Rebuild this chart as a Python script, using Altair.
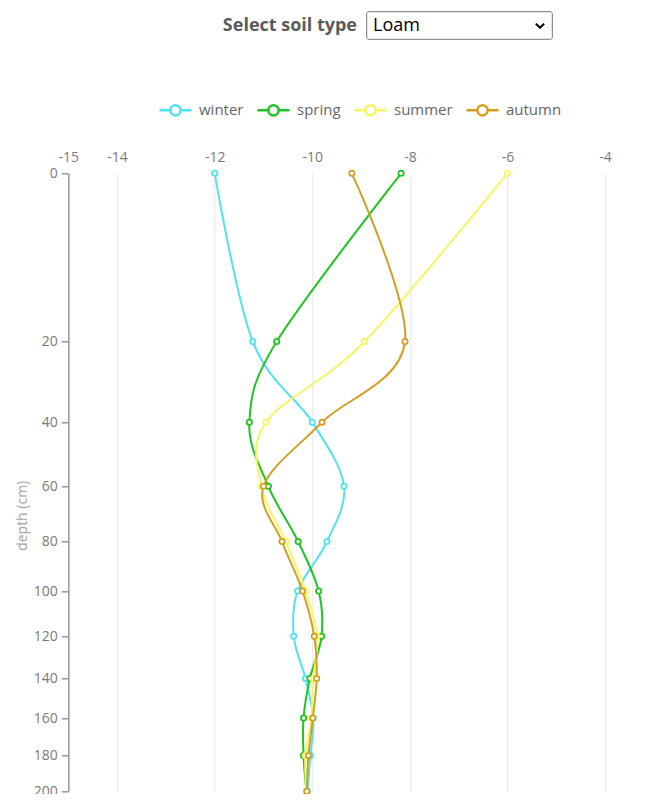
import altair as alt
import pandas as pd

# ---- data (soil type: Loam) ----
depths = [0, 20, 40, 60, 80, 100, 120, 140, 160, 180, 200]
seasons = ["winter", "spring", "summer", "autumn"]
season_colors = ["#4fe3f2", "#1fc41f", "#f6f662", "#d39e22"]

winter = [-12.0, -11.22, -10.0, -9.35, -9.70, -10.30, -10.38, -10.14, -9.98, -10.04, -10.10]
spring = [-8.18, -10.73, -11.29, -10.90, -10.29, -9.87, -9.81, -10.05, -10.18, -10.18, -10.12]
summer = [-6.0, -8.93, -10.95, -11.04, -10.54, -10.14, -9.90, -9.98, -10.02, -10.14, -10.12]
autumn = [-9.19, -8.10, -9.80, -11.0, -10.62, -10.20, -9.96, -9.91, -9.99, -10.08, -10.11]

x_ticks = [-15, -14, -12, -10, -8, -6, -4, -3]
y_ticks = depths

soil_label = ["Select soil type"]
soil_choice = ["Loam"]

rows = []
for s, vals in zip(seasons, [winter, spring, summer, autumn]):
    for d, v in zip(depths, vals):
        rows.append({"season": s, "depth": d, "temp": v})
df = pd.DataFrame(rows)

FONT = "Open Sans"
legend_symbol = ("M-1,0L-0.32,0M0.32,0L1,0M0.32,0A0.32,0.32,0,1,1,-0.32,0"
                 "A0.32,0.32,0,1,1,0.32,0Z")

PLOT_W = 579.7
PLOT_H = 618

xenc = alt.X(
    "temp:Q",
    scale=alt.Scale(domain=[-15, -3], range=[0, 585.6], nice=False, zero=False),
    axis=alt.Axis(
        orient="top", values=x_ticks, grid=True, gridColor="#e6e6e6", gridWidth=1,
        domain=False, ticks=False, labelPadding=9, labelFontSize=14,
        labelColor="#7a7a7a", labelFont=FONT, labelFlush=False, title=None,
        labelExpr="toString(datum.value)",
    ),
)
yenc = alt.Y(
    "depth:Q",
    scale=alt.Scale(type="pow", exponent=0.565, domain=[0, 200], nice=False,
                    zero=True, reverse=True),
    axis=alt.Axis(
        values=y_ticks, grid=False, domainColor="#999999", domainWidth=1.5,
        tickColor="#999999", tickWidth=1.5, tickSize=7, labelPadding=4,
        labelFontSize=14, labelColor="#7a7a7a", labelFont=FONT,
        title="depth (cm)", titleX=-46, titleY=342, titleBaseline="middle",
        titleAlign="center", titleAngle=270, titleFontWeight="normal",
        titleColor="#a3a3a3", titleFontSize=14, titleFont=FONT,
    ),
)
color_scale = alt.Scale(domain=seasons, range=season_colors)

lines = alt.Chart(df).mark_line(interpolate="cardinal", strokeWidth=2).encode(
    x=xenc,
    y=yenc,
    color=alt.Color(
        "season:N", scale=color_scale,
        legend=alt.Legend(
            orient="none", legendX=89.7, legendY=-80.7, direction="horizontal",
            title=None, symbolType=legend_symbol, symbolSize=1024,
            symbolStrokeWidth=2.5, symbolFillColor="white", labelFont=FONT,
            labelFontSize=15, labelColor="#666666", labelOffset=6,
            columnPadding=8, padding=0,
        ),
    ),
    order=alt.Order("depth:Q"),
)

points = alt.Chart(df).mark_point(
    shape="circle", filled=False, fill="white", fillOpacity=1, opacity=1,
    size=28, strokeWidth=1.8,
).encode(
    x=xenc, y=yenc,
    color=alt.Color("season:N", scale=color_scale, legend=None),
)

# ---- header: soil type selector look-alike ----
hdr_label = alt.Chart(pd.DataFrame({"t": soil_label})).mark_text(
    align="right", baseline="middle", font=FONT, fontSize=18, fontWeight="bold",
    color="#5b5b5b",
).encode(text="t:N", x=alt.value(288.7), y=alt.value(-147.3))

hdr_box = alt.Chart(pd.DataFrame({"t": soil_choice})).mark_rect(
    fill="white", stroke="#767676", strokeWidth=1, cornerRadius=2,
).encode(x=alt.value(298.4), x2=alt.value(484), y=alt.value(-161.6), y2=alt.value(-134))

hdr_choice = alt.Chart(pd.DataFrame({"t": soil_choice})).mark_text(
    align="left", baseline="middle", font=FONT, fontSize=18, color="#000000",
).encode(text="t:N", x=alt.value(304.7), y=alt.value(-147.3))

hdr_chevron = alt.Chart(pd.DataFrame({"t": soil_choice})).mark_point(
    shape="M-1,-0.5L0,0.5L1,-0.5", filled=False, strokeWidth=2, size=70,
    color="#000000", opacity=1,
).encode(x=alt.value(471.7), y=alt.value(-147.6))

chart = alt.layer(lines, points, hdr_box, hdr_label, hdr_choice, hdr_chevron).properties(
    width=PLOT_W,
    height=PLOT_H,
    autosize=alt.AutoSizeParams(type="none"),
    padding={"left": 60.3, "top": 165.3, "right": 0, "bottom": 3},
).configure(font=FONT, background="white").configure_view(strokeWidth=0, stroke="transparent")

chart.save("out.html", embed_options={"renderer": "svg", "actions": False})
